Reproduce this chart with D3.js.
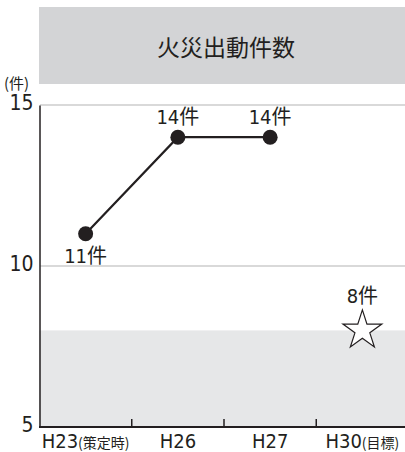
<!DOCTYPE html>
<html><head><meta charset="utf-8">
<script src="https://cdn.jsdelivr.net/npm/d3@7"></script>
<style>
body{margin:0;background:#fff;}
text{font-family:"DejaVu Sans Condensed","DejaVu Sans",sans-serif;font-stretch:condensed;fill:#231f20;}
</style></head><body>
<svg id="c" width="405" height="452"></svg>
<script>
const categories = ["H23", "H26", "H27", "H30"];
const categorySuffix = ["(策定時)", "", "", "(目標)"];
const actualCats = ["H23", "H26", "H27"];
const actualValues = [11, 14, 14];
const targetCat = "H30";
const targetValue = 8;
const yTicks = [5, 10, 15];
const title = "火災出動件数";
const unit = "(件)";
const jpFont = "'Noto Sans CJK JP',sans-serif";

const svg = d3.select("#c");
const x = d3.scaleBand().domain(categories).range([39.5, 408.5]);
const y = d3.scaleLinear().domain([5, 15]).range([427, 105]);

// title box
svg.append("rect").attr("x", 39).attr("y", 7).attr("width", 366).attr("height", 77).attr("fill", "#d3d4d6");
svg.append("text").attr("x", 226).attr("y", 56).attr("text-anchor", "middle")
  .style("font-family", jpFont).style("font-size", "23px").text(title);

// target band
svg.append("rect").attr("x", 39).attr("y", y(targetValue)).attr("width", 366)
  .attr("height", y(5) - y(targetValue)).attr("fill", "#e6e7e8");

// gridlines
svg.append("g").selectAll("line").data(yTicks.filter(d => d > 5)).join("line")
  .attr("x1", 40).attr("x2", 405).attr("y1", d => y(d)).attr("y2", d => y(d))
  .attr("stroke", "#d9d9d9").attr("stroke-width", 2);

// y axis
const ya = svg.append("g").attr("transform", "translate(39.5,0)")
  .call(d3.axisLeft(y).tickValues(yTicks).tickSize(0).tickPadding(6));
ya.select(".domain").attr("stroke", "#231f20").attr("stroke-width", 1.5);
ya.selectAll("text").style("font-size", "21px").attr("fill", "#231f20").attr("dy", "0.22em").attr("x", -6);

// x axis
const xa = svg.append("g").attr("transform", "translate(0,427)");
xa.append("line").attr("x1", 39).attr("x2", 405).attr("y1", 0).attr("y2", 0)
  .attr("stroke", "#231f20").attr("stroke-width", 2);
xa.selectAll("line.t").data(categories.slice(1)).join("line").attr("class", "t")
  .attr("x1", d => x(d)).attr("x2", d => x(d)).attr("y1", 0).attr("y2", -8)
  .attr("stroke", "#231f20").attr("stroke-width", 1.5);
const xl = xa.selectAll("text.l").data(categories).join("text").attr("class", "l")
  .attr("x", d => x(d) + x.bandwidth() / 2).attr("y", 21).attr("text-anchor", "middle")
  .style("font-size", "20px");
xl.append("tspan").text(d => d);
xl.append("tspan").text((d, i) => categorySuffix[i]).style("font-size", "14px")
  .style("font-family", jpFont);

// unit
svg.append("text").attr("x", 4).attr("y", 89).style("font-size", "15px")
  .style("font-family", jpFont).text(unit);

// line
const pts = actualCats.map((c, i) => ({c, v: actualValues[i]}));
const cx = d => x(d.c) + x.bandwidth() / 2;
svg.append("path").datum(pts)
  .attr("d", d3.line().x(cx).y(d => y(d.v)))
  .attr("fill", "none").attr("stroke", "#231f20").attr("stroke-width", 2.2);
svg.selectAll("circle.p").data(pts).join("circle").attr("class", "p")
  .attr("cx", cx).attr("cy", d => y(d.v)).attr("r", 7.5).attr("fill", "#231f20");

// point labels
svg.selectAll("text.pl").data(pts).join("text").attr("class", "pl")
  .attr("x", cx).attr("y", (d, i) => i === 0 ? y(d.v) + 29 : y(d.v) - 13)
  .attr("text-anchor", "middle").style("font-size", "20px")
  .each(function(d) {
    const t = d3.select(this);
    t.append("tspan").text(d.v);
    t.append("tspan").style("font-family", jpFont).text("件");
  });

// target star
const sx = x(targetCat) + x.bandwidth() / 2, sy = y(targetValue);
svg.append("path")
  .attr("d", d3.symbol(d3.symbolStar, 470)())
  .attr("transform", `translate(${sx},${sy})`)
  .attr("fill", "#fff").attr("stroke", "#231f20").attr("stroke-width", 1.2);
const tl = svg.append("text").attr("x", sx).attr("y", sy - 27).attr("text-anchor", "middle").style("font-size", "20px");
tl.append("tspan").text(targetValue);
tl.append("tspan").style("font-family", jpFont).text("件");
</script>
</body></html>
